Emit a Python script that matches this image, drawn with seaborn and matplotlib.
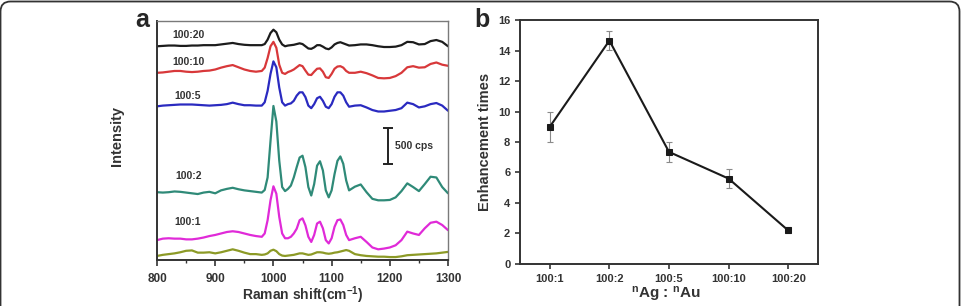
import numpy as np
import pandas as pd
import matplotlib
matplotlib.use('Agg')
import matplotlib.pyplot as plt
from matplotlib.patches import FancyBboxPatch
import seaborn as sns

# ---- panel a: Raman spectra, cps relative to each trace's baseline ----
shift = [800, 810, 820, 830, 840, 850, 860, 870, 880, 890, 900, 910, 920, 930, 940, 950, 960, 970, 980,
         985, 990, 995, 1000, 1005, 1010, 1015, 1020, 1025, 1030, 1035, 1040, 1045, 1050, 1055, 1060,
         1065, 1070, 1075, 1080, 1085, 1090, 1095, 1100, 1105, 1110, 1115, 1120, 1125, 1130,
         1140, 1150, 1160, 1170, 1180, 1190, 1200, 1210, 1220, 1230, 1240, 1250, 1260, 1270, 1280, 1290, 1300]

spec_100_20 = [0, 5, 10, 10, 5, 5, 10, 10, 15, 15, 15, 25, 35, 45, 30, 20, 15, 15, 15,
               30, 90, 180, 225, 190, 90, 25, 0, 10, 15, 20, 30, 40, 30, 0, -30, -35, -15, 15, 15, -5,
               -30, -40, -15, 25, 45, 55, 40, 25, 10,
               15, 25, 25, 15, 0, -10, -10, -5, 15, 60, 55, 25, 30, 70, 85, 60, 0]
spec_100_10 = [0, 5, 15, 25, 25, 15, 10, 15, 25, 30, 45, 70, 90, 105, 75, 45, 25, 15, 25,
               70, 200, 360, 420, 340, 110, 0, -15, 10, 25, 45, 75, 105, 90, 30, -25, -30, 15, 55, 60, 15,
               -60, -70, -15, 55, 85, 90, 70, 25, 0,
               0, 15, -5, -35, -70, -75, -70, -45, 0, 75, 90, 70, 75, 120, 140, 110, 95]
spec_100_5 = [0, 10, 15, 20, 25, 25, 25, 20, 15, 10, 15, 20, 30, 50, 30, 15, 15, 10, 10,
              55, 210, 440, 610, 530, 255, 55, 10, 30, 40, 75, 145, 190, 190, 125, 10, -25, 30, 110, 130, 75,
              -5, -25, 30, 130, 190, 190, 145, 55, -5,
              10, 15, -15, -50, -70, -70, -60, -50, -25, 50, 30, -15, 0, 30, 45, 10, -60]
spec_100_2 = [0, -5, 0, 10, 5, -5, -15, -25, -5, 5, -15, 25, 45, 60, 40, 25, 15, 5, -5,
              30, 200, 695, 1170, 960, 430, 70, 15, 45, 90, 200, 340, 470, 495, 340, 70, -45, 110, 360, 420, 295,
              25, -70, 25, 245, 425, 485, 385, 160, 25,
              75, 105, 0, -90, -110, -110, -105, -70, 15, 120, 70, 15, 110, 210, 200, 70, -15]
spec_100_1 = [0, 20, 25, 20, 20, 10, 10, 20, 35, 55, 70, 90, 110, 120, 110, 90, 70, 55, 45,
              90, 270, 540, 730, 630, 315, 90, 25, 25, 45, 90, 155, 270, 295, 200, 45, -25, 70, 225, 250, 160,
              0, -45, 25, 180, 270, 280, 205, 70, 0,
              25, 45, -25, -100, -125, -115, -100, -70, 0, 115, 90, 70, 160, 235, 250, 205, 135]
spec_blank = [0, 15, 25, 35, 50, 70, 75, 45, 45, 50, 35, 50, 70, 90, 70, 45, 25, 25, 15,
              20, 35, 70, 85, 65, 25, 5, 0, 5, 10, 15, 25, 35, 35, 25, 15, 20, 35, 50, 50, 45,
              35, 30, 35, 45, 50, 60, 70, 80, 70,
              25, 10, 0, -5, -10, -10, -15, -15, -5, 10, 15, 20, 25, 30, 35, 45, 55]

trace_names = ['100:20', '100:10', '100:5', '100:2', '100:1', 'blank']
trace_data = [spec_100_20, spec_100_10, spec_100_5, spec_100_2, spec_100_1, spec_blank]
trace_offset = [2900, 2540, 2085, 920, 270, 55]
trace_colors = ['#1c1c1c', '#d8383a', '#2a2ac0', '#2f8a78', '#e02ad8', '#8c9a26']

# ---- panel b: enhancement vs Ag:Au ratio ----
ratios = ['100:1', '100:2', '100:5', '100:10', '100:20']
enhancement = [9.0, 14.65, 7.35, 5.6, 2.2]
enhancement_err = [1.0, 0.62, 0.68, 0.6, 0.2]

sns.set_theme(style='ticks')
plt.rcParams['font.family'] = ['Liberation Sans', 'DejaVu Sans']
plt.rcParams['mathtext.fontset'] = 'custom'
plt.rcParams['mathtext.rm'] = 'Liberation Sans:bold'
plt.rcParams['mathtext.it'] = 'Liberation Sans:bold'
plt.rcParams['lines.solid_joinstyle'] = 'round'

fig = plt.figure(figsize=(9.61, 3.06), dpi=100)
axa = fig.add_axes([0.1634, 0.1503, 0.3028, 0.7811])
axb = fig.add_axes([0.5411, 0.1373, 0.3101, 0.7973])

rows = []
for name, vals, off in zip(trace_names, trace_data, trace_offset):
    for s, v in zip(shift, vals):
        rows.append((name, s, v + off))
spec = pd.DataFrame(rows, columns=['ratio', 'shift', 'cps'])
sns.lineplot(data=spec, x='shift', y='cps', hue='ratio', hue_order=trace_names,
             palette=trace_colors, estimator=None, sort=False, legend=False,
             linewidth=1.6, ax=axa)

label_pos = {'100:20': (826, 3053), '100:10': (826, 2689), '100:5': (829, 2229),
             '100:2': (832, 1135), '100:1': (829, 513)}
for name, (lx, ly) in label_pos.items():
    axa.text(lx, ly, name, fontsize=7.5, fontweight='bold', color='#333333', va='center')

# 500 cps scale bar
axa.errorbar([1197], [1547], yerr=[250], fmt='none', ecolor='#222222', elinewidth=1.4,
             capsize=3.5, capthick=1.4)
axa.text(1209, 1547, '500 cps', fontsize=7.5, fontweight='bold', color='#333333', va='center')

axa.set_xlim(800, 1300)
axa.set_ylim(0, 3243)
axa.set_xticks([800, 900, 1000, 1100, 1200, 1300])
axa.set_xticks([850, 950, 1050, 1150, 1250], minor=True)
axa.set_yticks([])
axa.tick_params(axis='x', which='major', length=4, width=1.2, color='#333333', labelsize=8.5,
                labelcolor='#333333', pad=5)
axa.tick_params(axis='x', which='minor', length=2.5, width=1, color='#333333')
for lab in axa.get_xticklabels():
    lab.set_fontweight('bold')
for side in ['left', 'bottom']:
    axa.spines[side].set_color('#333333')
    axa.spines[side].set_linewidth(1.4)
for side in ['top', 'right']:
    axa.spines[side].set_color('#7a7a7a')
    axa.spines[side].set_linewidth(1.0)
axa.set_xlabel(r'Raman shift(cm$^{-1}$)', fontsize=10, fontweight='bold', color='#333333')
axa.xaxis.set_label_coords(0.5, -0.1)
axa.set_ylabel('Intensity', fontsize=10.5, fontweight='bold', color='#333333')
axa.yaxis.set_label_coords(-0.115, 0.52)
fig.text(0.148, 0.935, 'a', fontsize=18, fontweight='bold', ha='center', va='center')

# panel b
axb.errorbar(ratios, enhancement, yerr=enhancement_err, fmt='none', ecolor='#8a8a8a',
             elinewidth=0.8, capsize=2.5, capthick=0.8, zorder=2)
sns.lineplot(x=ratios, y=enhancement, sort=False, color='#1a1a1a', linewidth=1.5,
             marker='s', markersize=4.5, markeredgecolor='#1a1a1a', ax=axb, zorder=3)
axb.set_xlim(-0.5, 4.5)
axb.set_ylim(0, 16)
axb.set_yticks(range(0, 17, 2))
axb.tick_params(axis='both', length=3.5, width=1.2, color='#333333', labelsize=8,
                labelcolor='#333333')
for lab in axb.get_xticklabels() + axb.get_yticklabels():
    lab.set_fontweight('bold')
for side in axb.spines.values():
    side.set_color('#333333')
    side.set_linewidth(1.4)
axb.set_ylabel('Enhancement times', fontsize=10.5, fontweight='bold', color='#333333')
axb.yaxis.set_label_coords(-0.095, 0.5)
axb.set_xlabel(r'$\mathregular{^{n}}$Ag : $\mathregular{^{n}}$Au', fontsize=11, fontweight='bold',
               color='#333333')
axb.xaxis.set_label_coords(0.49, -0.085)
fig.text(0.5015, 0.935, 'b', fontsize=18, fontweight='bold', ha='center', va='center')

# rounded outer frame (only top and right edges show)
frame = FancyBboxPatch((0.5, -40), 959, 344.5, boxstyle='round,pad=0,rounding_size=10',
                       transform=None, fill=False, edgecolor='#333333', linewidth=1.3)
fig.patches.append(frame)

fig.savefig('out.png', dpi=100)
